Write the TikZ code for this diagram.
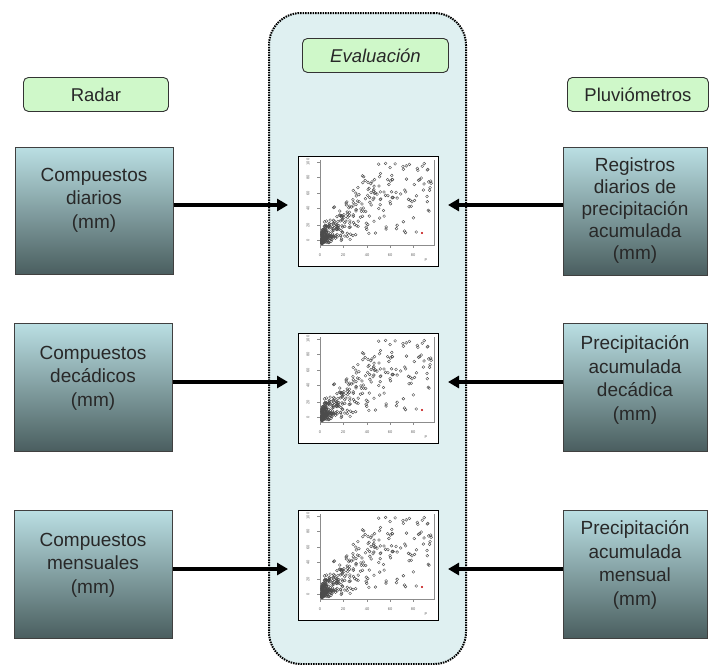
\documentclass[tikz,border=0pt]{standalone}
\usepackage{fontspec}
\setmainfont{Liberation Sans}
\usetikzlibrary{arrows.meta,calc}
\definecolor{boxtop}{RGB}{186,223,227}
\definecolor{boxbot}{RGB}{74,94,95}
\definecolor{lblfill}{RGB}{207,248,201}
\definecolor{contfill}{RGB}{223,240,241}
\definecolor{txt}{RGB}{40,40,40}
\tikzset{
  databox/.style={draw=black!75, line width=0.8pt, top color=boxtop, bottom color=boxbot,
    minimum width=#1, minimum height=128pt, inner sep=0pt, anchor=north west},
  boxtext/.style={align=center, text=txt, inner sep=0pt, font=\fontsize{19}{23.5}\selectfont},
  headlbl/.style={draw=black!80, line width=0.9pt, rounded corners=5pt, fill=lblfill,
    minimum width=#1, minimum height=34pt, inner sep=0pt, anchor=north west, text=txt,
    font=\fontsize{18.5}{22}\selectfont},
  container/.style={draw=black, line width=2pt, dash pattern=on 1.5pt off 1pt,
    fill=contfill, rounded corners=32pt, minimum width=197pt, minimum height=651pt,
    inner sep=0pt, anchor=north west},
  plotbox/.style={draw=black, line width=1pt, fill=white, minimum width=140pt,
    minimum height=110pt, inner sep=0pt, anchor=north west},
  arr/.style={line width=3.6pt, -{Triangle[length=11pt,width=12pt]}},
  axisc/.style={draw=black!45, line width=0.4pt},
  dotc/.style={draw=black!70, line width=0.4pt},
  ticklbl/.style={font=\fontsize{4}{4}\selectfont, text=black!60, inner sep=0pt},
  scatter/.pic={
    \pgfmathsetseed{11}
    \draw[axisc] (22,4) -- (22,89) -- (136,89) -- (136,4);
    \foreach \yy in {84,69,52,37,21,6} \draw[axisc] (19,\yy) -- (22,\yy);
    \foreach \xx in {22,45,69,92,115} \draw[axisc] (\xx,89) -- (\xx,92);
    \foreach \xx/\l in {22/0,45/20,69/40,92/60,115/80}
      \node[ticklbl] (-xl\xx) at (\xx,99) {\l};
    \foreach \yy/\l in {84/0,69/20,52/40,37/60,21/80,6/100}
      \node[ticklbl, rotate=90] (-yl\yy) at (10,\yy) {\l};
    \node[ticklbl] (-p) at (128,104) {P};
    \foreach \i in {1,...,400}{
      \pgfmathsetmacro\u{rnd}
      \pgfmathsetmacro\v{rnd}
      \pgfmathsetmacro\w{rnd}
      \pgfmathsetmacro\px{2+110*\u*\u*\u}
      \pgfmathsetmacro\pr{\px*(0.15+1.4*\v)*0.8+30*\w*\w*\w*(0.25+\u)+2*\w}
      \pgfmathsetmacro\py{ifthenelse(\pr>82,25+55*rnd,\pr)}
      \draw[dotc] (22+\px,88-\py) circle (1.4pt);
    }
    \fill[red!75!black] (124,77) circle (1.2pt);
  }
}
\begin{document}
\begin{tikzpicture}[x=1pt,y=-1pt]
\useasboundingbox (0,0) rectangle (711,664);

% evaluation container
\node[container] (eval) at (268,12) {};

% heading labels
\node[headlbl=145pt] (radar) at (23,77) {Radar};
\node[headlbl=141pt] (pluv) at (567,77) {Pluviómetros};
\node[headlbl=146pt, font=\fontsize{18.5}{22}\selectfont\itshape] (evlbl) at (302,38) {Evaluación};

% left boxes
\node[databox=158pt, minimum height=127pt] (lb1) at (15,147) {};
\node[databox=158pt] (lb2) at (14,323) {};
\node[databox=158pt] (lb3) at (14,510) {};
\node[boxtext] (lt1) at (94,200) {Compuestos\\diarios\\(mm)};
\node[boxtext] (lt2) at (93,378) {Compuestos\\decádicos\\(mm)};
\node[boxtext] (lt3) at (93,565) {Compuestos\\mensuales\\(mm)};

% right boxes
\node[databox=144pt, minimum height=128pt] (rb1) at (563,147) {};
\node[databox=144pt] (rb2) at (563,323) {};
\node[databox=144pt] (rb3) at (563,510) {};
\node[boxtext, font=\fontsize{19}{22}\selectfont] (rt1) at (635,211) {Registros\\diarios de\\precipitación\\acumulada\\(mm)};
\node[boxtext] (rt2) at (635,380) {Precipitación\\acumulada\\decádica\\(mm)};
\node[boxtext] (rt3) at (635,565) {Precipitación\\acumulada\\mensual\\(mm)};

% plots
\node[plotbox] (p1) at (298,156) {};
\node[plotbox] (p2) at (298,333) {};
\node[plotbox] (p3) at (298,510) {};
\pic (s1) at (p1.north west) {scatter};
\pic (s2) at (p2.north west) {scatter};
\pic (s3) at (p3.north west) {scatter};

% arrow heights
\coordinate (a1) at (0,205);
\coordinate (a2) at (0,382);
\coordinate (a3) at (0,569);

% arrows
\draw[arr, shorten >=10pt] (lb1.east |- a1) -- (p1.west |- a1);
\draw[arr, shorten >=10pt] (lb2.east |- a2) -- (p2.west |- a2);
\draw[arr, shorten >=10pt] (lb3.east |- a3) -- (p3.west |- a3);
\draw[arr, shorten >=9pt] (rb1.west |- a1) -- (p1.east |- a1);
\draw[arr, shorten >=9pt] (rb2.west |- a2) -- (p2.east |- a2);
\draw[arr, shorten >=9pt] (rb3.west |- a3) -- (p3.east |- a3);
\end{tikzpicture}
\end{document}
